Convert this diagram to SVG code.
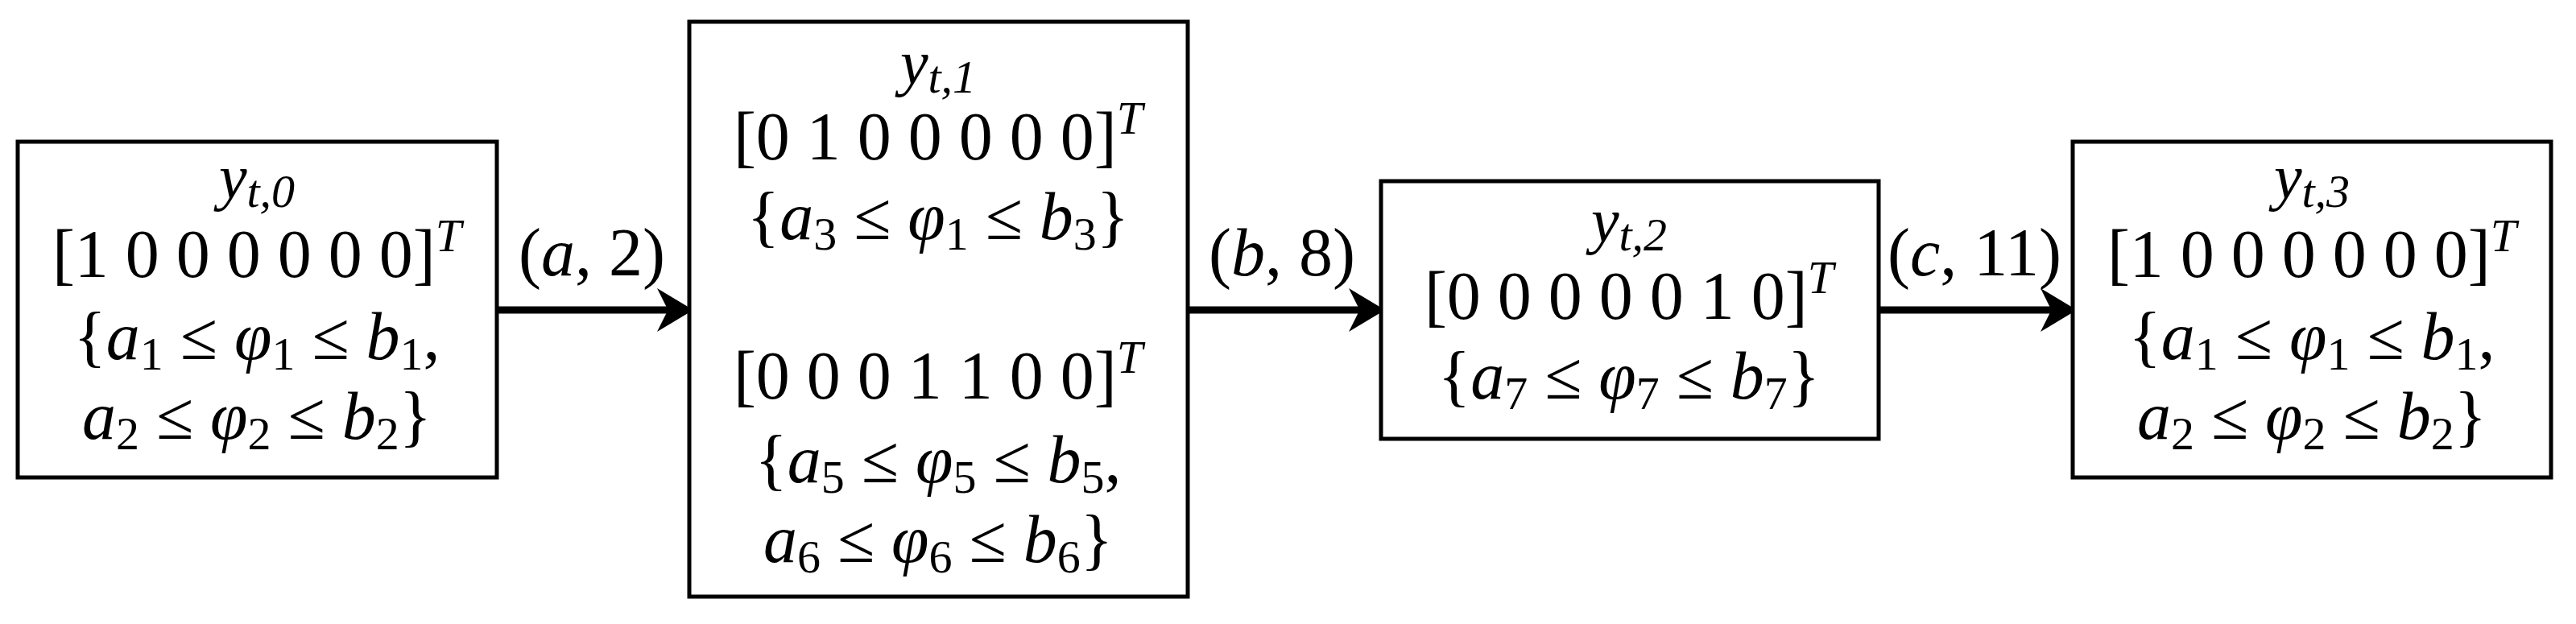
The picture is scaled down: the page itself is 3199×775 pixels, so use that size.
<svg xmlns="http://www.w3.org/2000/svg" width="3199" height="775" viewBox="0 0 3199 775">
<style>
.box{fill:#fff;stroke:#000;stroke-width:5}
text{font-family:"Liberation Serif",serif;font-size:84px;text-anchor:middle;fill:#000}
.t{font-size:78px}
.i{font-style:italic}
.s{font-size:58px}
.c{stroke:#000;stroke-width:9;fill:none}
</style>
<defs><marker id="ah" markerWidth="5" markerHeight="6" refX="4" refY="3" orient="auto" markerUnits="strokeWidth"><path d="M0,0 L5,3 L0,6 L1.5,3 Z" fill="#000"/></marker></defs>
<g id="connectors">
<line class="c" x1="617" y1="385" x2="852" y2="385" marker-end="url(#ah)"/>
<line class="c" x1="1476" y1="385" x2="1711" y2="385" marker-end="url(#ah)"/>
<line class="c" x1="2333" y1="385" x2="2570" y2="385" marker-end="url(#ah)"/>
<text x="735" y="342">(<tspan class="i">a</tspan>, 2)</text>
<text x="1592" y="342">(<tspan class="i">b</tspan>, 8)</text>
<text x="2452" y="342">(<tspan class="i">c</tspan>, 11)</text>
</g>
<g id="n0">
<rect class="box" x="22" y="176" width="595" height="417"/>
<text class="t" x="319" y="246"><tspan class="i">y</tspan><tspan class="s i" dy="11">t,0</tspan></text>
<text x="319" y="344">[1 0 0 0 0 0 0]<tspan class="s i" dy="-32">T</tspan></text>
<text x="319" y="446">{<tspan class="i">a</tspan><tspan class="s" dy="13">1</tspan><tspan dy="-13"> ≤ </tspan><tspan class="i">φ</tspan><tspan class="s" dy="13">1</tspan><tspan dy="-13"> ≤ </tspan><tspan class="i">b</tspan><tspan class="s" dy="13">1</tspan><tspan dy="-13">,</tspan></text>
<text x="319" y="545"><tspan class="i">a</tspan><tspan class="s" dy="13">2</tspan><tspan dy="-13"> ≤ </tspan><tspan class="i">φ</tspan><tspan class="s" dy="13">2</tspan><tspan dy="-13"> ≤ </tspan><tspan class="i">b</tspan><tspan class="s" dy="13">2</tspan><tspan dy="-13">}</tspan></text>
</g>
<g id="n1">
<rect class="box" x="856" y="27" width="619" height="714"/>
<text class="t" x="1165" y="104"><tspan class="i">y</tspan><tspan class="s i" dy="11">t,1</tspan></text>
<text x="1165" y="198">[0 1 0 0 0 0 0]<tspan class="s i" dy="-32">T</tspan></text>
<text x="1165" y="297">{<tspan class="i">a</tspan><tspan class="s" dy="13">3</tspan><tspan dy="-13"> ≤ </tspan><tspan class="i">φ</tspan><tspan class="s" dy="13">1</tspan><tspan dy="-13"> ≤ </tspan><tspan class="i">b</tspan><tspan class="s" dy="13">3</tspan><tspan dy="-13">}</tspan></text>
<text x="1165" y="495">[0 0 0 1 1 0 0]<tspan class="s i" dy="-32">T</tspan></text>
<text x="1165" y="599">{<tspan class="i">a</tspan><tspan class="s" dy="13">5</tspan><tspan dy="-13"> ≤ </tspan><tspan class="i">φ</tspan><tspan class="s" dy="13">5</tspan><tspan dy="-13"> ≤ </tspan><tspan class="i">b</tspan><tspan class="s" dy="13">5</tspan><tspan dy="-13">,</tspan></text>
<text x="1165" y="698"><tspan class="i">a</tspan><tspan class="s" dy="13">6</tspan><tspan dy="-13"> ≤ </tspan><tspan class="i">φ</tspan><tspan class="s" dy="13">6</tspan><tspan dy="-13"> ≤ </tspan><tspan class="i">b</tspan><tspan class="s" dy="13">6</tspan><tspan dy="-13">}</tspan></text>
</g>
<g id="n2">
<rect class="box" x="1715" y="225" width="618" height="320"/>
<text class="t" x="2023" y="300"><tspan class="i">y</tspan><tspan class="s i" dy="11">t,2</tspan></text>
<text x="2023" y="396">[0 0 0 0 0 1 0]<tspan class="s i" dy="-32">T</tspan></text>
<text x="2023" y="495">{<tspan class="i">a</tspan><tspan class="s" dy="13">7</tspan><tspan dy="-13"> ≤ </tspan><tspan class="i">φ</tspan><tspan class="s" dy="13">7</tspan><tspan dy="-13"> ≤ </tspan><tspan class="i">b</tspan><tspan class="s" dy="13">7</tspan><tspan dy="-13">}</tspan></text>
</g>
<g id="n3">
<rect class="box" x="2574" y="176" width="594" height="417"/>
<text class="t" x="2871" y="246"><tspan class="i">y</tspan><tspan class="s i" dy="11">t,3</tspan></text>
<text x="2871" y="344">[1 0 0 0 0 0 0]<tspan class="s i" dy="-32">T</tspan></text>
<text x="2871" y="446">{<tspan class="i">a</tspan><tspan class="s" dy="13">1</tspan><tspan dy="-13"> ≤ </tspan><tspan class="i">φ</tspan><tspan class="s" dy="13">1</tspan><tspan dy="-13"> ≤ </tspan><tspan class="i">b</tspan><tspan class="s" dy="13">1</tspan><tspan dy="-13">,</tspan></text>
<text x="2871" y="545"><tspan class="i">a</tspan><tspan class="s" dy="13">2</tspan><tspan dy="-13"> ≤ </tspan><tspan class="i">φ</tspan><tspan class="s" dy="13">2</tspan><tspan dy="-13"> ≤ </tspan><tspan class="i">b</tspan><tspan class="s" dy="13">2</tspan><tspan dy="-13">}</tspan></text>
</g>
</svg>
